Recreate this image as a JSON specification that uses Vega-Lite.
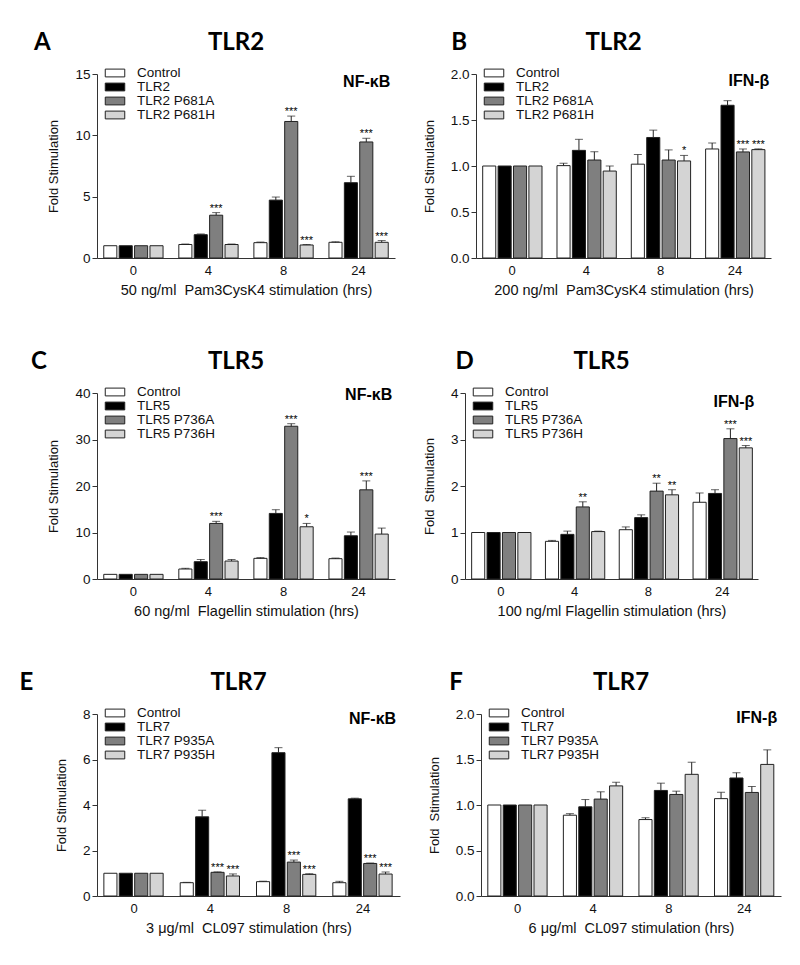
{
"$schema": "https://vega.github.io/schema/vega-lite/v6.json",
"padding": {"left": 19, "top": 31, "right": 5, "bottom": 5},
"background": "white",
"datasets": {"bars": [
{"p":"A","t":"0","g":0,"s":"Control","v":1,"hi":1,"sig":""},
{"p":"A","t":"0","g":1,"s":"TLR2","v":1,"hi":1,"sig":""},
{"p":"A","t":"0","g":2,"s":"TLR2 P681A","v":1,"hi":1,"sig":""},
{"p":"A","t":"0","g":3,"s":"TLR2 P681H","v":1,"hi":1,"sig":""},
{"p":"A","t":"4","g":0,"s":"Control","v":1.1,"hi":1.14,"sig":""},
{"p":"A","t":"4","g":1,"s":"TLR2","v":1.9,"hi":1.96,"sig":""},
{"p":"A","t":"4","g":2,"s":"TLR2 P681A","v":3.49,"hi":3.7,"sig":"***"},
{"p":"A","t":"4","g":3,"s":"TLR2 P681H","v":1.1,"hi":1.14,"sig":""},
{"p":"A","t":"8","g":0,"s":"Control","v":1.25,"hi":1.3,"sig":""},
{"p":"A","t":"8","g":1,"s":"TLR2","v":4.72,"hi":4.97,"sig":""},
{"p":"A","t":"8","g":2,"s":"TLR2 P681A","v":11.13,"hi":11.57,"sig":"***"},
{"p":"A","t":"8","g":3,"s":"TLR2 P681H","v":1.06,"hi":1.1,"sig":"***"},
{"p":"A","t":"24","g":0,"s":"Control","v":1.28,"hi":1.32,"sig":""},
{"p":"A","t":"24","g":1,"s":"TLR2","v":6.14,"hi":6.66,"sig":""},
{"p":"A","t":"24","g":2,"s":"TLR2 P681A","v":9.46,"hi":9.76,"sig":"***"},
{"p":"A","t":"24","g":3,"s":"TLR2 P681H","v":1.28,"hi":1.42,"sig":"***"},
{"p":"B","t":"0","g":0,"s":"Control","v":1,"hi":1,"sig":""},
{"p":"B","t":"0","g":1,"s":"TLR2","v":1,"hi":1,"sig":""},
{"p":"B","t":"0","g":2,"s":"TLR2 P681A","v":1,"hi":1,"sig":""},
{"p":"B","t":"0","g":3,"s":"TLR2 P681H","v":1,"hi":1,"sig":""},
{"p":"B","t":"4","g":0,"s":"Control","v":1.004,"hi":1.03,"sig":""},
{"p":"B","t":"4","g":1,"s":"TLR2","v":1.17,"hi":1.29,"sig":""},
{"p":"B","t":"4","g":2,"s":"TLR2 P681A","v":1.065,"hi":1.155,"sig":""},
{"p":"B","t":"4","g":3,"s":"TLR2 P681H","v":0.945,"hi":1.0,"sig":""},
{"p":"B","t":"8","g":0,"s":"Control","v":1.02,"hi":1.125,"sig":""},
{"p":"B","t":"8","g":1,"s":"TLR2","v":1.31,"hi":1.39,"sig":""},
{"p":"B","t":"8","g":2,"s":"TLR2 P681A","v":1.065,"hi":1.175,"sig":""},
{"p":"B","t":"8","g":3,"s":"TLR2 P681H","v":1.055,"hi":1.115,"sig":"*"},
{"p":"B","t":"24","g":0,"s":"Control","v":1.185,"hi":1.25,"sig":""},
{"p":"B","t":"24","g":1,"s":"TLR2","v":1.66,"hi":1.71,"sig":""},
{"p":"B","t":"24","g":2,"s":"TLR2 P681A","v":1.153,"hi":1.185,"sig":"***"},
{"p":"B","t":"24","g":3,"s":"TLR2 P681H","v":1.178,"hi":1.186,"sig":"***"},
{"p":"C","t":"0","g":0,"s":"Control","v":1,"hi":1,"sig":""},
{"p":"C","t":"0","g":1,"s":"TLR5","v":1,"hi":1,"sig":""},
{"p":"C","t":"0","g":2,"s":"TLR5 P736A","v":1,"hi":1,"sig":""},
{"p":"C","t":"0","g":3,"s":"TLR5 P736H","v":1,"hi":1,"sig":""},
{"p":"C","t":"4","g":0,"s":"Control","v":2.15,"hi":2.3,"sig":""},
{"p":"C","t":"4","g":1,"s":"TLR5","v":3.72,"hi":4.2,"sig":""},
{"p":"C","t":"4","g":2,"s":"TLR5 P736A","v":11.95,"hi":12.4,"sig":"***"},
{"p":"C","t":"4","g":3,"s":"TLR5 P736H","v":3.86,"hi":4.2,"sig":""},
{"p":"C","t":"8","g":0,"s":"Control","v":4.44,"hi":4.6,"sig":""},
{"p":"C","t":"8","g":1,"s":"TLR5","v":14.1,"hi":14.9,"sig":""},
{"p":"C","t":"8","g":2,"s":"TLR5 P736A","v":32.85,"hi":33.4,"sig":"***"},
{"p":"C","t":"8","g":3,"s":"TLR5 P736H","v":11.23,"hi":11.95,"sig":"*"},
{"p":"C","t":"24","g":0,"s":"Control","v":4.37,"hi":4.5,"sig":""},
{"p":"C","t":"24","g":1,"s":"TLR5","v":9.3,"hi":10.1,"sig":""},
{"p":"C","t":"24","g":2,"s":"TLR5 P736A","v":19.18,"hi":21.1,"sig":"***"},
{"p":"C","t":"24","g":3,"s":"TLR5 P736H","v":9.66,"hi":10.95,"sig":""},
{"p":"D","t":"0","g":0,"s":"Control","v":1,"hi":1,"sig":""},
{"p":"D","t":"0","g":1,"s":"TLR5","v":1,"hi":1,"sig":""},
{"p":"D","t":"0","g":2,"s":"TLR5 P736A","v":1,"hi":1,"sig":""},
{"p":"D","t":"0","g":3,"s":"TLR5 P736H","v":1,"hi":1,"sig":""},
{"p":"D","t":"4","g":0,"s":"Control","v":0.81,"hi":0.83,"sig":""},
{"p":"D","t":"4","g":1,"s":"TLR5","v":0.96,"hi":1.03,"sig":""},
{"p":"D","t":"4","g":2,"s":"TLR5 P736A","v":1.55,"hi":1.66,"sig":"**"},
{"p":"D","t":"4","g":3,"s":"TLR5 P736H","v":1.02,"hi":1.03,"sig":""},
{"p":"D","t":"8","g":0,"s":"Control","v":1.06,"hi":1.12,"sig":""},
{"p":"D","t":"8","g":1,"s":"TLR5","v":1.32,"hi":1.38,"sig":""},
{"p":"D","t":"8","g":2,"s":"TLR5 P736A","v":1.89,"hi":2.06,"sig":"**"},
{"p":"D","t":"8","g":3,"s":"TLR5 P736H","v":1.81,"hi":1.92,"sig":"**"},
{"p":"D","t":"24","g":0,"s":"Control","v":1.65,"hi":1.85,"sig":""},
{"p":"D","t":"24","g":1,"s":"TLR5","v":1.84,"hi":1.92,"sig":""},
{"p":"D","t":"24","g":2,"s":"TLR5 P736A","v":3.02,"hi":3.23,"sig":"***"},
{"p":"D","t":"24","g":3,"s":"TLR5 P736H","v":2.82,"hi":2.87,"sig":"***"},
{"p":"E","t":"0","g":0,"s":"Control","v":1,"hi":1,"sig":""},
{"p":"E","t":"0","g":1,"s":"TLR7","v":1,"hi":1,"sig":""},
{"p":"E","t":"0","g":2,"s":"TLR7 P935A","v":1,"hi":1,"sig":""},
{"p":"E","t":"0","g":3,"s":"TLR7 P935H","v":1,"hi":1,"sig":""},
{"p":"E","t":"4","g":0,"s":"Control","v":0.585,"hi":0.6,"sig":""},
{"p":"E","t":"4","g":1,"s":"TLR7","v":3.48,"hi":3.77,"sig":""},
{"p":"E","t":"4","g":2,"s":"TLR7 P935A","v":1.04,"hi":1.06,"sig":"***"},
{"p":"E","t":"4","g":3,"s":"TLR7 P935H","v":0.88,"hi":0.97,"sig":"***"},
{"p":"E","t":"8","g":0,"s":"Control","v":0.63,"hi":0.65,"sig":""},
{"p":"E","t":"8","g":1,"s":"TLR7","v":6.3,"hi":6.52,"sig":""},
{"p":"E","t":"8","g":2,"s":"TLR7 P935A","v":1.49,"hi":1.58,"sig":"***"},
{"p":"E","t":"8","g":3,"s":"TLR7 P935H","v":0.95,"hi":0.98,"sig":"***"},
{"p":"E","t":"24","g":0,"s":"Control","v":0.585,"hi":0.645,"sig":""},
{"p":"E","t":"24","g":1,"s":"TLR7","v":4.27,"hi":4.3,"sig":""},
{"p":"E","t":"24","g":2,"s":"TLR7 P935A","v":1.43,"hi":1.45,"sig":"***"},
{"p":"E","t":"24","g":3,"s":"TLR7 P935H","v":0.965,"hi":1.055,"sig":"***"},
{"p":"F","t":"0","g":0,"s":"Control","v":1,"hi":1,"sig":""},
{"p":"F","t":"0","g":1,"s":"TLR7","v":1,"hi":1,"sig":""},
{"p":"F","t":"0","g":2,"s":"TLR7 P935A","v":1,"hi":1,"sig":""},
{"p":"F","t":"0","g":3,"s":"TLR7 P935H","v":1,"hi":1,"sig":""},
{"p":"F","t":"4","g":0,"s":"Control","v":0.888,"hi":0.905,"sig":""},
{"p":"F","t":"4","g":1,"s":"TLR7","v":0.98,"hi":1.06,"sig":""},
{"p":"F","t":"4","g":2,"s":"TLR7 P935A","v":1.065,"hi":1.145,"sig":""},
{"p":"F","t":"4","g":3,"s":"TLR7 P935H","v":1.21,"hi":1.25,"sig":""},
{"p":"F","t":"8","g":0,"s":"Control","v":0.84,"hi":0.86,"sig":""},
{"p":"F","t":"8","g":1,"s":"TLR7","v":1.16,"hi":1.24,"sig":""},
{"p":"F","t":"8","g":2,"s":"TLR7 P935A","v":1.116,"hi":1.152,"sig":""},
{"p":"F","t":"8","g":3,"s":"TLR7 P935H","v":1.337,"hi":1.47,"sig":""},
{"p":"F","t":"24","g":0,"s":"Control","v":1.07,"hi":1.14,"sig":""},
{"p":"F","t":"24","g":1,"s":"TLR7","v":1.297,"hi":1.355,"sig":""},
{"p":"F","t":"24","g":2,"s":"TLR7 P935A","v":1.138,"hi":1.203,"sig":""},
{"p":"F","t":"24","g":3,"s":"TLR7 P935H","v":1.446,"hi":1.606,"sig":""}
]},
"vconcat": [
{"hconcat": [
 {"title": {"text":"A","anchor":"start","offset":0,"dx":-14,"dy":24},
  "vconcat": [{"width":298,"height":184,"title":{"text":"TLR2","dx":-10},"data":{"name":"bars"},
   "layer":[
    {"transform":[{"filter":"datum.p == 'A'"}],"mark":{"type":"bar","stroke":"#222","strokeWidth":1},
     "encoding":{"x":{"field":"t","type":"nominal","scale":{"domain":["0","4","8","24"],"paddingInner":0.21,"paddingOuter":0.09},"axis":{"title":"50 ng/ml\u00a0 Pam3CysK4 stimulation (hrs)"}},
      "xOffset":{"field":"g","type":"nominal","scale":{"paddingInner":0.15,"paddingOuter":0}},
      "y":{"field":"v","type":"quantitative","scale":{"domain":[0,15],"nice":false},"axis":{"values":[0,5,10,15],"title":"Fold Stimulation"}},
      "fill":{"field":"s","type":"nominal","scale":{"domain":["Control","TLR2","TLR2 P681A","TLR2 P681H"],"range":["#ffffff","#000000","#7f7f7f","#d4d4d4"]},"legend":{"title":null}}}},
    {"transform":[{"filter":"datum.p == 'A' && datum.hi > datum.v"}],"mark":{"type":"rule","color":"#222"},
     "encoding":{"x":{"field":"t","type":"nominal"},"xOffset":{"field":"g","type":"nominal"},"y":{"field":"v","type":"quantitative"},"y2":{"field":"hi"}}},
    {"transform":[{"filter":"datum.p == 'A' && datum.hi > datum.v"}],"mark":{"type":"tick","orient":"horizontal","size":8,"thickness":1,"color":"#222"},
     "encoding":{"x":{"field":"t","type":"nominal"},"xOffset":{"field":"g","type":"nominal"},"y":{"field":"hi","type":"quantitative"}}},
    {"transform":[{"filter":"datum.p == 'A' && datum.sig != ''"}],"mark":{"type":"text","fontSize":11,"baseline":"alphabetic","dy":-1,"color":"#000"},
     "encoding":{"x":{"field":"t","type":"nominal"},"xOffset":{"field":"g","type":"nominal"},"y":{"field":"hi","type":"quantitative"},"text":{"field":"sig"}}},
    {"data":{"values":[{"label":"NF-κB"}]},"mark":{"type":"text","fontSize":16,"fontWeight":"bold","align":"right","baseline":"alphabetic","dx":2,"color":"#000"},
     "encoding":{"x":{"datum":"24","type":"nominal","bandPosition":1},"y":{"datum":13.9,"type":"quantitative"},"text":{"field":"label"}}}
   ]}]},
 {"title": {"text":"B","anchor":"start","offset":0,"dx":28,"dy":24},
  "vconcat": [{"width":295,"height":184,"title":{"text":"TLR2","dx":-10},"data":{"name":"bars"},
   "layer":[
    {"transform":[{"filter":"datum.p == 'B'"}],"mark":{"type":"bar","stroke":"#222","strokeWidth":1},
     "encoding":{"x":{"field":"t","type":"nominal","scale":{"domain":["0","4","8","24"],"paddingInner":0.21,"paddingOuter":0.09},"axis":{"title":"200 ng/ml\u00a0 Pam3CysK4 stimulation (hrs)"}},
      "xOffset":{"field":"g","type":"nominal","scale":{"paddingInner":0.15,"paddingOuter":0}},
      "y":{"field":"v","type":"quantitative","scale":{"domain":[0,2],"nice":false},"axis":{"values":[0,0.5,1,1.5,2],"format":".1f","title":"Fold Stimulation"}},
      "fill":{"field":"s","type":"nominal","scale":{"domain":["Control","TLR2","TLR2 P681A","TLR2 P681H"],"range":["#ffffff","#000000","#7f7f7f","#d4d4d4"]},"legend":{"title":null}}}},
    {"transform":[{"filter":"datum.p == 'B' && datum.hi > datum.v"}],"mark":{"type":"rule","color":"#222"},
     "encoding":{"x":{"field":"t","type":"nominal"},"xOffset":{"field":"g","type":"nominal"},"y":{"field":"v","type":"quantitative"},"y2":{"field":"hi"}}},
    {"transform":[{"filter":"datum.p == 'B' && datum.hi > datum.v"}],"mark":{"type":"tick","orient":"horizontal","size":8,"thickness":1,"color":"#222"},
     "encoding":{"x":{"field":"t","type":"nominal"},"xOffset":{"field":"g","type":"nominal"},"y":{"field":"hi","type":"quantitative"}}},
    {"transform":[{"filter":"datum.p == 'B' && datum.sig != ''"}],"mark":{"type":"text","fontSize":11,"baseline":"alphabetic","dy":-1,"color":"#000"},
     "encoding":{"x":{"field":"t","type":"nominal"},"xOffset":{"field":"g","type":"nominal"},"y":{"field":"hi","type":"quantitative"},"text":{"field":"sig"}}},
    {"data":{"values":[{"label":"IFN-β"}]},"mark":{"type":"text","fontSize":16,"fontWeight":"bold","align":"right","baseline":"alphabetic","dx":5,"color":"#000"},
     "encoding":{"x":{"datum":"24","type":"nominal","bandPosition":1},"y":{"datum":1.87,"type":"quantitative"},"text":{"field":"label"}}}
   ]}]}
 ], "spacing": 28, "resolve": {"scale":{"fill":"independent","x":"independent","y":"independent"},"legend":{"fill":"independent"}}},
{"hconcat": [
 {"title": {"text":"C","anchor":"start","offset":0,"dx":-17,"dy":24},
  "vconcat": [{"width":298,"height":186,"title":{"text":"TLR5","dx":-10},"data":{"name":"bars"},
   "layer":[
    {"transform":[{"filter":"datum.p == 'C'"}],"mark":{"type":"bar","stroke":"#222","strokeWidth":1},
     "encoding":{"x":{"field":"t","type":"nominal","scale":{"domain":["0","4","8","24"],"paddingInner":0.21,"paddingOuter":0.09},"axis":{"title":"60 ng/ml\u00a0 Flagellin stimulation (hrs)"}},
      "xOffset":{"field":"g","type":"nominal","scale":{"paddingInner":0.15,"paddingOuter":0}},
      "y":{"field":"v","type":"quantitative","scale":{"domain":[0,40],"nice":false},"axis":{"values":[0,10,20,30,40],"title":"Fold Stimulation"}},
      "fill":{"field":"s","type":"nominal","scale":{"domain":["Control","TLR5","TLR5 P736A","TLR5 P736H"],"range":["#ffffff","#000000","#7f7f7f","#d4d4d4"]},"legend":{"title":null}}}},
    {"transform":[{"filter":"datum.p == 'C' && datum.hi > datum.v"}],"mark":{"type":"rule","color":"#222"},
     "encoding":{"x":{"field":"t","type":"nominal"},"xOffset":{"field":"g","type":"nominal"},"y":{"field":"v","type":"quantitative"},"y2":{"field":"hi"}}},
    {"transform":[{"filter":"datum.p == 'C' && datum.hi > datum.v"}],"mark":{"type":"tick","orient":"horizontal","size":8,"thickness":1,"color":"#222"},
     "encoding":{"x":{"field":"t","type":"nominal"},"xOffset":{"field":"g","type":"nominal"},"y":{"field":"hi","type":"quantitative"}}},
    {"transform":[{"filter":"datum.p == 'C' && datum.sig != ''"}],"mark":{"type":"text","fontSize":11,"baseline":"alphabetic","dy":-1,"color":"#000"},
     "encoding":{"x":{"field":"t","type":"nominal"},"xOffset":{"field":"g","type":"nominal"},"y":{"field":"hi","type":"quantitative"},"text":{"field":"sig"}}},
    {"data":{"values":[{"label":"NF-κB"}]},"mark":{"type":"text","fontSize":16,"fontWeight":"bold","align":"right","baseline":"alphabetic","dx":4,"color":"#000"},
     "encoding":{"x":{"datum":"24","type":"nominal","bandPosition":1},"y":{"datum":38.5,"type":"quantitative"},"text":{"field":"label"}}}
   ]}]},
 {"title": {"text":"D","anchor":"start","offset":0,"dx":32,"dy":24},
  "vconcat": [{"width":293,"height":186,"title":{"text":"TLR5","dx":-10},"data":{"name":"bars"},
   "layer":[
    {"transform":[{"filter":"datum.p == 'D'"}],"mark":{"type":"bar","stroke":"#222","strokeWidth":1},
     "encoding":{"x":{"field":"t","type":"nominal","scale":{"domain":["0","4","8","24"],"paddingInner":0.21,"paddingOuter":0.09},"axis":{"title":"100 ng/ml Flagellin stimulation (hrs)"}},
      "xOffset":{"field":"g","type":"nominal","scale":{"paddingInner":0.15,"paddingOuter":0}},
      "y":{"field":"v","type":"quantitative","scale":{"domain":[0,4],"nice":false},"axis":{"values":[0,1,2,3,4],"title":"Fold\u00a0 Stimulation"}},
      "fill":{"field":"s","type":"nominal","scale":{"domain":["Control","TLR5","TLR5 P736A","TLR5 P736H"],"range":["#ffffff","#000000","#7f7f7f","#d4d4d4"]},"legend":{"title":null}}}},
    {"transform":[{"filter":"datum.p == 'D' && datum.hi > datum.v"}],"mark":{"type":"rule","color":"#222"},
     "encoding":{"x":{"field":"t","type":"nominal"},"xOffset":{"field":"g","type":"nominal"},"y":{"field":"v","type":"quantitative"},"y2":{"field":"hi"}}},
    {"transform":[{"filter":"datum.p == 'D' && datum.hi > datum.v"}],"mark":{"type":"tick","orient":"horizontal","size":8,"thickness":1,"color":"#222"},
     "encoding":{"x":{"field":"t","type":"nominal"},"xOffset":{"field":"g","type":"nominal"},"y":{"field":"hi","type":"quantitative"}}},
    {"transform":[{"filter":"datum.p == 'D' && datum.sig != ''"}],"mark":{"type":"text","fontSize":11,"baseline":"alphabetic","dy":-1,"color":"#000"},
     "encoding":{"x":{"field":"t","type":"nominal"},"xOffset":{"field":"g","type":"nominal"},"y":{"field":"hi","type":"quantitative"},"text":{"field":"sig"}}},
    {"data":{"values":[{"label":"IFN-β"}]},"mark":{"type":"text","fontSize":16,"fontWeight":"bold","align":"right","baseline":"alphabetic","dx":3,"color":"#000"},
     "encoding":{"x":{"datum":"24","type":"nominal","bandPosition":1},"y":{"datum":3.7,"type":"quantitative"},"text":{"field":"label"}}}
   ]}]}
 ], "spacing": 28, "resolve": {"scale":{"fill":"independent","x":"independent","y":"independent"},"legend":{"fill":"independent"}}},
{"hconcat": [
 {"title": {"text":"E","anchor":"start","offset":0,"dx":-36,"dy":24},
  "vconcat": [{"width":303,"height":182,"title":{"text":"TLR7","dx":-10},"data":{"name":"bars"},
   "layer":[
    {"transform":[{"filter":"datum.p == 'E'"}],"mark":{"type":"bar","stroke":"#222","strokeWidth":1},
     "encoding":{"x":{"field":"t","type":"nominal","scale":{"domain":["0","4","8","24"],"paddingInner":0.21,"paddingOuter":0.09},"axis":{"title":"3 μg/ml\u00a0 CL097 stimulation (hrs)"}},
      "xOffset":{"field":"g","type":"nominal","scale":{"paddingInner":0.15,"paddingOuter":0}},
      "y":{"field":"v","type":"quantitative","scale":{"domain":[0,8],"nice":false},"axis":{"values":[0,2,4,6,8],"title":"Fold Stimulation"}},
      "fill":{"field":"s","type":"nominal","scale":{"domain":["Control","TLR7","TLR7 P935A","TLR7 P935H"],"range":["#ffffff","#000000","#7f7f7f","#d4d4d4"]},"legend":{"title":null}}}},
    {"transform":[{"filter":"datum.p == 'E' && datum.hi > datum.v"}],"mark":{"type":"rule","color":"#222"},
     "encoding":{"x":{"field":"t","type":"nominal"},"xOffset":{"field":"g","type":"nominal"},"y":{"field":"v","type":"quantitative"},"y2":{"field":"hi"}}},
    {"transform":[{"filter":"datum.p == 'E' && datum.hi > datum.v"}],"mark":{"type":"tick","orient":"horizontal","size":8,"thickness":1,"color":"#222"},
     "encoding":{"x":{"field":"t","type":"nominal"},"xOffset":{"field":"g","type":"nominal"},"y":{"field":"hi","type":"quantitative"}}},
    {"transform":[{"filter":"datum.p == 'E' && datum.sig != ''"}],"mark":{"type":"text","fontSize":11,"baseline":"alphabetic","dy":-1,"color":"#000"},
     "encoding":{"x":{"field":"t","type":"nominal"},"xOffset":{"field":"g","type":"nominal"},"y":{"field":"hi","type":"quantitative"},"text":{"field":"sig"}}},
    {"data":{"values":[{"label":"NF-κB"}]},"mark":{"type":"text","fontSize":16,"fontWeight":"bold","align":"right","baseline":"alphabetic","dx":3,"color":"#000"},
     "encoding":{"x":{"datum":"24","type":"nominal","bandPosition":1},"y":{"datum":7.56,"type":"quantitative"},"text":{"field":"label"}}}
   ]}]},
 {"title": {"text":"F","anchor":"start","offset":0,"dx":21,"dy":24},
  "vconcat": [{"width":300,"height":182,"title":{"text":"TLR7","dx":-10},"data":{"name":"bars"},
   "layer":[
    {"transform":[{"filter":"datum.p == 'F'"}],"mark":{"type":"bar","stroke":"#222","strokeWidth":1},
     "encoding":{"x":{"field":"t","type":"nominal","scale":{"domain":["0","4","8","24"],"paddingInner":0.21,"paddingOuter":0.09},"axis":{"title":"6 μg/ml\u00a0 CL097 stimulation (hrs)"}},
      "xOffset":{"field":"g","type":"nominal","scale":{"paddingInner":0.15,"paddingOuter":0}},
      "y":{"field":"v","type":"quantitative","scale":{"domain":[0,2],"nice":false},"axis":{"values":[0,0.5,1,1.5,2],"format":".1f","title":"Fold\u00a0 Stimulation"}},
      "fill":{"field":"s","type":"nominal","scale":{"domain":["Control","TLR7","TLR7 P935A","TLR7 P935H"],"range":["#ffffff","#000000","#7f7f7f","#d4d4d4"]},"legend":{"title":null}}}},
    {"transform":[{"filter":"datum.p == 'F' && datum.hi > datum.v"}],"mark":{"type":"rule","color":"#222"},
     "encoding":{"x":{"field":"t","type":"nominal"},"xOffset":{"field":"g","type":"nominal"},"y":{"field":"v","type":"quantitative"},"y2":{"field":"hi"}}},
    {"transform":[{"filter":"datum.p == 'F' && datum.hi > datum.v"}],"mark":{"type":"tick","orient":"horizontal","size":8,"thickness":1,"color":"#222"},
     "encoding":{"x":{"field":"t","type":"nominal"},"xOffset":{"field":"g","type":"nominal"},"y":{"field":"hi","type":"quantitative"}}},
    {"transform":[{"filter":"datum.p == 'F' && datum.sig != ''"}],"mark":{"type":"text","fontSize":11,"baseline":"alphabetic","dy":-1,"color":"#000"},
     "encoding":{"x":{"field":"t","type":"nominal"},"xOffset":{"field":"g","type":"nominal"},"y":{"field":"hi","type":"quantitative"},"text":{"field":"sig"}}},
    {"data":{"values":[{"label":"IFN-β"}]},"mark":{"type":"text","fontSize":16,"fontWeight":"bold","align":"right","baseline":"alphabetic","dx":3,"color":"#000"},
     "encoding":{"x":{"datum":"24","type":"nominal","bandPosition":1},"y":{"datum":1.9,"type":"quantitative"},"text":{"field":"label"}}}
   ]}]}
 ], "spacing": 28, "resolve": {"scale":{"fill":"independent","x":"independent","y":"independent"},"legend":{"fill":"independent"}}}
],
"spacing": 53,
"resolve": {"scale":{"fill":"independent","x":"independent","y":"independent"},"legend":{"fill":"independent"}},
"config": {
 "font": "Liberation Sans",
 "view": {"stroke": null},
 "title": {"font": "Lato", "fontSize": 24, "fontWeight": "bold", "color": "#000", "anchor": "middle", "offset": 12},
 "axis": {"grid": false, "domainColor": "#333", "tickColor": "#333", "labelColor": "#111", "titleColor": "#111", "labelFont": "Liberation Sans", "titleFont": "Liberation Sans", "labelFontSize": 13, "titleFontSize": 13, "titleFontWeight": "normal"},
 "axisY": {"tickSize": 5, "labelPadding": 2, "titlePadding": 14, "labelFontSize": 13.5},
 "axisX": {"ticks": false, "labelPadding": 6, "titlePadding": 6, "labelAngle": 0, "titleFontSize": 14.5},
 "legend": {"orient": "none", "legendX": 11, "legendY": -8, "padding": 0, "rowPadding": -1.5, "labelOffset": 15, "labelFont": "Liberation Sans", "labelFontSize": 13.5, "labelColor": "#111", "symbolType": "M-1.5,-0.6H1.5V0.6H-1.5Z", "symbolSize": 169, "symbolStrokeColor": "#222", "symbolStrokeWidth": 1},
 "text": {"font": "Liberation Sans", "color": "#111"}
}
}
